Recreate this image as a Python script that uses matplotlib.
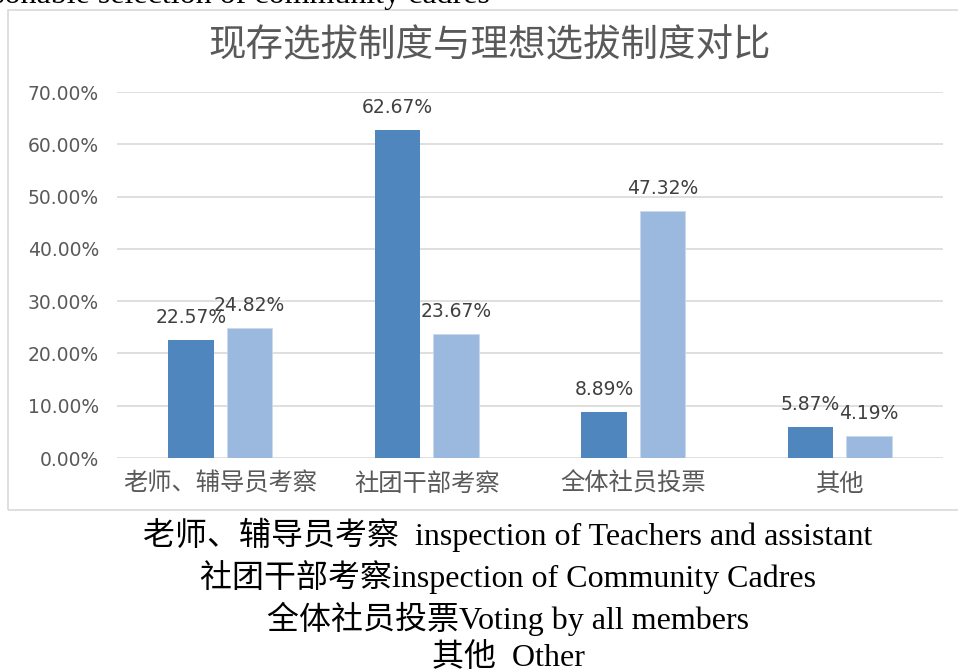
import numpy as np
import matplotlib.pyplot as plt
from matplotlib.patches import Rectangle

plt.rcParams['font.family'] = ['DejaVu Sans', 'Noto Sans CJK SC']

# data
categories = ["老师、辅导员考察", "社团干部考察", "全体社员投票", "其他"]
current = [22.57, 62.67, 8.89, 5.87]
ideal = [24.82, 23.67, 47.32, 4.19]
yticks = [0, 10, 20, 30, 40, 50, 60, 70]
title = "现存选拔制度与理想选拔制度对比"
captions = ["老师、辅导员考察  inspection of Teachers and assistant",
            "社团干部考察inspection of Community Cadres",
            "全体社员投票Voting by all members",
            "其他  Other"]
top_text = "reasonable selection of community cadres"

W, H = 958, 672
fig = plt.figure(figsize=(W / 100, H / 100), dpi=100)

# chart frame
fig.patches.append(Rectangle((8 / W, (H - 510) / H), 1.0, 500 / H,
                             transform=fig.transFigure, fill=False,
                             edgecolor="#D9D9D9", linewidth=1.2))

ax = fig.add_axes([117 / W, (H - 458) / H, 826 / W, 366 / H])
x = np.arange(len(categories))
w = 0.222
off = 0.142
b1 = ax.bar(x - off, current, w, color="#4F86BD", zorder=3)
b2 = ax.bar(x + off, ideal, w, color="#9BB9DE", edgecolor="#C9D9EE", linewidth=0.6, zorder=3)

for bars, vals in [(b1, current), (b2, ideal)]:
    for b, v in zip(bars, vals):
        ax.annotate(f"{v:.2f}%", (b.get_x() + b.get_width() / 2, v),
                    xytext=(0, 13), textcoords="offset pixels",
                    ha="center", va="bottom", fontsize=13.5, color="#404040")

ax.set_xlim(-0.5, 3.5)
ax.set_ylim(0, 70)
ax.set_yticks(yticks)
ax.set_yticklabels([f"{t:.2f}%" for t in yticks], fontsize=13.5, color="#595959")
ax.set_xticks(x)
ax.set_xticklabels(categories, fontsize=17.5, color="#595959",
                   family=['Noto Sans CJK SC', 'DejaVu Sans'])
ax.tick_params(length=0, axis="y", pad=13)
ax.tick_params(length=0, axis="x", pad=9)
ax.grid(axis="y", color="#D9D9D9", linewidth=1.2, zorder=0)
for s in ax.spines.values():
    s.set_visible(False)

fig.text(490 / W, 1 - 46 / H, title, ha="center", va="center", fontsize=27,
         color="#595959", family=['Noto Sans CJK SC'])

# text outside the chart
serif = ['Liberation Serif', 'Noto Sans CJK SC']
fig.text(490 / W, 1 - 3 / H, top_text, ha="right", va="baseline",
         fontsize=23, family=serif, color="black")
for i, c in enumerate(captions):
    ys = [535, 577, 619, 658][i]
    fig.text(508 / W, 1 - ys / H, c, ha="center", va="center",
             fontsize=23, family=serif, color="black")

fig.savefig("out.png", dpi=100)
